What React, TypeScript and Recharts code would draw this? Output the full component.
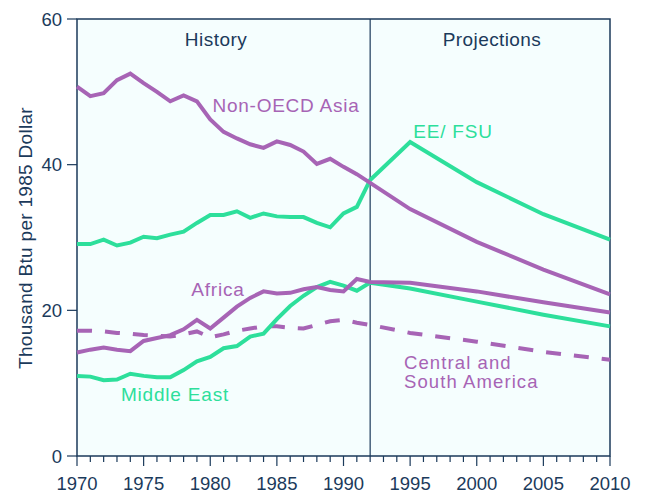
import { CartesianGrid, Customized, Line, LineChart, ReferenceArea, ReferenceLine, XAxis, YAxis } from "recharts"

const years = [
  1970, 1971, 1972, 1973, 1974, 1975, 1976, 1977, 1978, 1979, 1980, 1981, 1982, 1983, 1984, 1985, 1986, 1987,
  1988, 1989, 1990, 1991, 1992, 1995, 2000, 2005, 2010,
]

const nonOecdAsia = [
  50.7, 49.4, 49.8, 51.6, 52.5, 51.2, 50.0, 48.7, 49.5, 48.7, 46.2, 44.5, 43.6, 42.8, 42.3, 43.2, 42.7, 41.8,
  40.1, 40.8, 39.7, 38.7, 37.5, 33.9, 29.4, 25.6, 22.2,
]
const eeFsu = [
  29.1, 29.1, 29.7, 28.9, 29.3, 30.1, 29.9, 30.4, 30.8, 32.0, 33.1, 33.1, 33.6, 32.7, 33.3, 32.9, 32.8, 32.8,
  32.0, 31.4, 33.3, 34.2, 37.9, 43.1, 37.6, 33.2, 29.7,
]
const africa = [
  14.2, 14.6, 14.9, 14.6, 14.4, 15.8, 16.2, 16.6, 17.4, 18.7, 17.5, 19.0, 20.5, 21.7, 22.6, 22.3, 22.4, 22.9,
  23.2, 22.8, 22.6, 24.3, 23.9, 23.8, 22.6, 21.1, 19.7,
]
const middleEast = [
  11.0, 10.9, 10.4, 10.5, 11.3, 11.0, 10.8, 10.8, 11.8, 13.0, 13.6, 14.8, 15.1, 16.4, 16.8, 18.8, 20.6, 22.0,
  23.2, 23.9, 23.4, 22.7, 23.8, 23.0, 21.2, 19.4, 17.8,
]
const centralSouthAmerica = [
  17.2, 17.2, 17.1, 16.9, 16.8, 16.6, 16.5, 16.4, 16.7, 17.1, 16.3, 16.7, 17.2, 17.5, 17.8, 17.8, 17.6, 17.5,
  18.0, 18.5, 18.7, 18.3, 18.0, 16.9, 15.7, 14.3, 13.2,
]

const yearTicks = Array.from({ length: 41 }, (_, i) => 1970 + i)
const yearLabels = [1970, 1975, 1980, 1985, 1990, 1995, 2000, 2005, 2010]
const valueTicks = [0, 20, 40, 60]

const NAVY = "#1b3a5b"
const PURPLE = "#a764b5"
const GREEN = "#2ddf9b"
const BG = "#f5fefe"
const FONT = "'Liberation Sans', Arial, sans-serif"

const data = years.map((year, i) => ({
  year,
  asia: nonOecdAsia[i],
  eefsu: eeFsu[i],
  africa: africa[i],
  me: middleEast[i],
  csa: centralSouthAmerica[i],
}))

const YearTick = ({ x, y, payload }: any) => {
  const major = yearLabels.includes(payload.value)
  return (
    <g>
      <line x1={x} y1={y} x2={x} y2={y + (major ? 10 : 6)} stroke={NAVY} strokeWidth={1.2} />
      {major && (
        <text x={x} y={y + 34} textAnchor="middle" fontSize={18.5} fill={NAVY} fontFamily={FONT}>
          {payload.value}
        </text>
      )}
    </g>
  )
}

// texts placed on the plot (section titles, series names, axis title)
const Annotations = () => (
  <g fontFamily={FONT} fontSize={19}>
    <text x={216} y={46} textAnchor="middle" fill={NAVY} letterSpacing={0.5}>History</text>
    <text x={492} y={46} textAnchor="middle" fill={NAVY} letterSpacing={0.4}>Projections</text>
    <text x={286} y={112} textAnchor="middle" fill={PURPLE} letterSpacing={0.75}>Non-OECD Asia</text>
    <text x={453} y={138} textAnchor="middle" fill={GREEN} letterSpacing={0.8}>EE/ FSU</text>
    <text x={218} y={296} textAnchor="middle" fill={PURPLE} letterSpacing={0.8}>Africa</text>
    <text x={175} y={401} textAnchor="middle" fill={GREEN} letterSpacing={0.8}>Middle East</text>
    <text x={404} y={369} fontSize={18.5} fill={PURPLE} letterSpacing={1.1}>Central and</text>
    <text x={404} y={388} fontSize={18.5} fill={PURPLE} letterSpacing={1.1}>South America</text>
    <text x={32} y={238} textAnchor="middle" fill={NAVY} letterSpacing={0.3} transform="rotate(-90 32 238)">
      Thousand Btu per 1985 Dollar
    </text>
  </g>
)

export default function App() {
  return (
    <div style={{ position: "absolute", left: 0, top: 0, background: "#fff" }}>
      <LineChart width={647} height={494} data={data} margin={{ top: 19, right: 37, bottom: 0, left: 0 }}>
        <CartesianGrid fill={BG} horizontal={false} vertical={false} />
        <ReferenceArea x1={1970} x2={2010} y1={0} y2={60} fill="none" stroke={NAVY} strokeWidth={1.5} />
        <ReferenceLine x={1992} stroke={NAVY} strokeWidth={1.2} />
        <XAxis
          dataKey="year"
          type="number"
          domain={[1970, 2010]}
          ticks={yearTicks}
          interval={0}
          axisLine={false}
          tickLine={false}
          tickSize={0}
          tickMargin={0}
          height={38}
          tick={<YearTick />}
        />
        <YAxis
          type="number"
          domain={[0, 60]}
          ticks={valueTicks}
          width={77}
          axisLine={false}
          tickSize={10}
          tickMargin={5}
          tickLine={{ stroke: NAVY, strokeWidth: 1.2 }}
          tick={{ fill: NAVY, fontSize: 18.5, fontFamily: FONT }}
        />
        <Line dataKey="csa" stroke={PURPLE} strokeWidth={4} strokeDasharray="15 13" dot={false} isAnimationActive={false} />
        <Line dataKey="me" stroke={GREEN} strokeWidth={4} dot={false} isAnimationActive={false} />
        <Line dataKey="africa" stroke={PURPLE} strokeWidth={4} dot={false} isAnimationActive={false} />
        <Line dataKey="eefsu" stroke={GREEN} strokeWidth={4} dot={false} isAnimationActive={false} />
        <Line dataKey="asia" stroke={PURPLE} strokeWidth={4} dot={false} isAnimationActive={false} />
        <Customized component={<Annotations />} />
      </LineChart>
    </div>
  )
}
